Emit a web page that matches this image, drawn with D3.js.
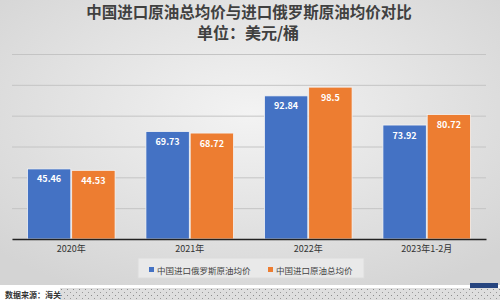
<!DOCTYPE html>
<html>
<head>
<meta charset="utf-8">
<script src="https://cdn.jsdelivr.net/npm/d3@7"></script>
<style>
  body { margin: 0; padding: 0; background: #fff; }
  svg { display: block; font-family: "Noto Sans CJK SC", "Noto Sans", sans-serif; }
</style>
</head>
<body>
<script>
// chart data
var categories = ["2020年", "2021年", "2022年", "2023年1-2月"];
var seriesNames = ["中国进口俄罗斯原油均价", "中国进口原油总均价"];
var russiaPrice = [45.46, 69.73, 92.84, 73.92];
var totalPrice = [44.53, 68.72, 98.5, 80.72];
var yTicks = [0, 20, 40, 60, 80, 100, 120];
var colors = ["#4472C4", "#ED7D31"];

var W = 500, H = 300;
var margin = {top: 54, right: 14, bottom: 61, left: 12};
var width = W - margin.left - margin.right,
    height = H - margin.top - margin.bottom;

var svg = d3.select("body").append("svg")
    .attr("width", W)
    .attr("height", H);

// background gradient (light centre, darker edges)
var defs = svg.append("defs");
var grad = defs.append("radialGradient")
    .attr("id", "bg")
    .attr("cx", "50%").attr("cy", "40%").attr("r", "70%");
grad.append("stop").attr("offset", "0%").attr("stop-color", "#f3f3f3");
grad.append("stop").attr("offset", "100%").attr("stop-color", "#d4d4d4");

var pat = defs.append("pattern")
    .attr("id", "dots")
    .attr("width", 6).attr("height", 6)
    .attr("patternUnits", "userSpaceOnUse");
pat.append("rect").attr("width", 6).attr("height", 6).attr("fill", "#dedede");
pat.append("rect").attr("x", 1).attr("y", 1).attr("width", 1).attr("height", 1).attr("fill", "#8a8a8a");
pat.append("rect").attr("x", 4).attr("y", 4).attr("width", 1).attr("height", 1).attr("fill", "#9a9a9a");

svg.append("rect")
    .attr("width", W).attr("height", 285)
    .attr("fill", "url(#bg)");

// title
svg.append("text")
    .attr("x", 249).attr("y", 11)
    .attr("text-anchor", "middle")
    .attr("dominant-baseline", "central")
    .style("font-size", "15.5px").style("font-weight", "bold")
    .style("fill", "#404040")
    .text("中国进口原油总均价与进口俄罗斯原油均价对比");
svg.append("text")
    .attr("x", 248).attr("y", 32)
    .attr("text-anchor", "middle")
    .attr("dominant-baseline", "central")
    .style("font-size", "16px").style("font-weight", "bold")
    .style("fill", "#404040")
    .text("单位：美元/桶");

var g = svg.append("g")
    .attr("transform", "translate(" + margin.left + "," + margin.top + ")");

// scales
var x0 = d3.scaleBand().domain(categories).range([0, width]).paddingInner(0.26).paddingOuter(0.13);
var x1 = d3.scaleBand().domain(seriesNames).range([0, x0.bandwidth()]).paddingInner(0.02);
var y = d3.scaleLinear().domain([0, 120]).range([height, 0]);

// gridlines
g.append("g")
    .call(d3.axisLeft(y).tickValues(yTicks).tickSize(-width).tickFormat(""))
    .call(function(a) {
      a.select(".domain").remove();
      a.selectAll("line").attr("stroke", "#c4c4c4").attr("stroke-width", 1);
    });

// bars
var rows = categories.map(function(c, i) {
  return {cat: c, vals: [russiaPrice[i], totalPrice[i]]};
});

var groups = g.selectAll(".grp")
    .data(rows)
    .enter().append("g")
    .attr("class", "grp")
    .attr("transform", function(d) { return "translate(" + x0(d.cat) + ",0)"; });

groups.selectAll("rect")
    .data(function(d) { return d.vals.map(function(v, j) { return {s: seriesNames[j], v: v, j: j}; }); })
    .enter().append("rect")
    .attr("x", function(d) { return x1(d.s); })
    .attr("y", function(d) { return y(d.v); })
    .attr("width", x1.bandwidth())
    .attr("height", function(d) { return height - y(d.v); })
    .attr("fill", function(d) { return colors[d.j]; })
    .attr("stroke", "#f4f4f4")
    .attr("stroke-width", 0.8);

groups.selectAll(".val")
    .data(function(d) { return d.vals.map(function(v, j) { return {s: seriesNames[j], v: v}; }); })
    .enter().append("text")
    .attr("class", "val")
    .attr("x", function(d) { return x1(d.s) + x1.bandwidth() / 2; })
    .attr("y", function(d) { return y(d.v) + 10; })
    .attr("text-anchor", "middle")
    .attr("dominant-baseline", "central")
    .style("font-size", "9px").style("font-weight", "bold")
    .style("fill", "#ffffff")
    .text(function(d) { return d.v; });

// x axis
g.append("g")
    .attr("transform", "translate(0," + height + ")")
    .call(d3.axisBottom(x0).tickSize(0).tickPadding(7))
    .call(function(a) {
      a.select(".domain").attr("stroke", "#222").attr("stroke-width", 1.5);
      a.selectAll("text")
        .style("font-size", "9px")
        .style("font-family", "\"Noto Sans CJK SC\", sans-serif")
        .style("fill", "#333");
    });

// legend
var legend = svg.append("g").attr("transform", "translate(138,258)");
legend.append("rect")
    .attr("width", 226).attr("height", 20)
    .attr("fill", "#e9e9e9")
    .attr("stroke", "#dcdcdc");
var items = legend.selectAll(".legend")
    .data(seriesNames)
    .enter().append("g")
    .attr("class", "legend")
    .attr("transform", function(d, i) { return "translate(" + (11 + i * 119) + ",12)"; });
items.append("rect")
    .attr("x", 0).attr("y", -3)
    .attr("width", 5).attr("height", 5)
    .attr("fill", function(d, i) { return colors[i]; });
items.append("text")
    .attr("x", 8).attr("y", 0)
    .attr("dominant-baseline", "central")
    .style("font-size", "8.5px")
    .style("fill", "#444")
    .text(function(d) { return d; });

// bottom source strip
svg.append("rect").attr("x", 0).attr("y", 285).attr("width", W).attr("height", 15).attr("fill", "#fff");
svg.append("rect").attr("x", 60).attr("y", 288).attr("width", W - 60).attr("height", 12).attr("fill", "url(#dots)");
svg.append("rect").attr("x", 470).attr("y", 283).attr("width", 28).attr("height", 5).attr("fill", "#27457f");
svg.append("text")
    .attr("x", 5).attr("y", 294)
    .attr("dominant-baseline", "central")
    .style("font-size", "8px").style("font-weight", "bold")
    .style("fill", "#333")
    .text("数据来源：海关");
</script>
</body>
</html>
